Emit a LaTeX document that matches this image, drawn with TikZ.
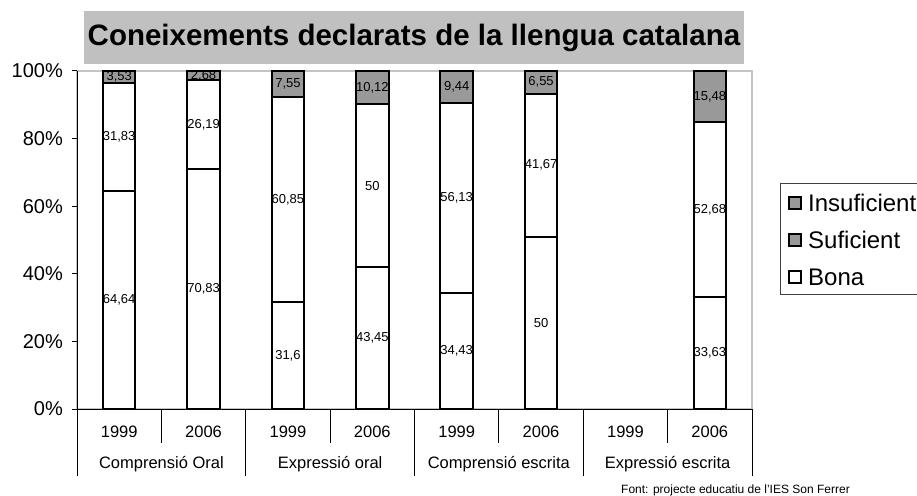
\documentclass[tikz,border=0pt]{standalone}
\usepackage{fontspec}
\setmainfont{Liberation Sans}
\definecolor{segGray}{HTML}{999999}
\definecolor{titleGray}{HTML}{C0C0C0}
\definecolor{frameGray}{HTML}{C4C4C4}
\definecolor{legGray}{HTML}{404040}
\newcommand\stackbar[7]{%
 \pgfmathsetmacro\sbTot{#2+#3+#4}%
 \pgfmathsetmacro\sbFa{#2/\sbTot}%
 \pgfmathsetmacro\sbFb{(#2+#3)/\sbTot}%
 \pgfmathsetmacro\sbYa{409-338*\sbFa}%
 \pgfmathsetmacro\sbYb{409-338*\sbFb}%
 \pgfmathsetmacro\sbX{77+84.375*(#1-0.5)}%
 \fill[segGray] ({\sbX-16.2},\sbYb) rectangle ({\sbX+16.2},71);
 \fill[white] ({\sbX-16.2},409) rectangle ({\sbX+16.2},\sbYb);
 \node[datalbl] (bona#1) at (\sbX,{(409+\sbYa)/2}) {#5};
 \node[datalbl] (suf#1) at (\sbX,{(\sbYa+\sbYb)/2}) {#6};
 \node[datalbl] (ins#1) at (\sbX,{(\sbYb+71)/2}) {#7};
 \draw[barline] ({\sbX-16.2},409) rectangle ({\sbX+16.2},71);
 \draw[barline] ({\sbX-16.2},\sbYa) -- ({\sbX+16.2},\sbYa);
 \draw[barline] ({\sbX-16.2},\sbYb) -- ({\sbX+16.2},\sbYb);
}
\tikzset{
 datalbl/.style={font=\fontsize{13}{15}\selectfont, inner sep=0pt},
 barline/.style={line width=2pt, black},
 axisline/.style={line width=1pt, black},
 ticklbl/.style={font=\fontsize{20}{23}\selectfont, inner sep=0pt, anchor=east},
 catlbl/.style={font=\fontsize{16.5}{19}\selectfont, inner sep=0pt},
 leglbl/.style={font=\fontsize{24}{28}\selectfont, inner sep=0pt, anchor=west},
 legbox/.style={draw=black, line width=2pt, minimum size=12pt, inner sep=0pt}
}
\begin{document}
\begin{tikzpicture}[x=1pt, y=-1pt]
\useasboundingbox (0,0) rectangle (917,495);
\clip (0,0) rectangle (917,495);
% title
\node[fill=titleGray, minimum width=660pt, minimum height=53pt, inner sep=0pt] (title) at (414,37.5)
 {\fontsize{29.5}{33}\selectfont\bfseries Coneixements declarats de la llengua catalana};
% plot frame
\draw[frameGray, line width=1.5pt] (77,71) rectangle (752,409);
% y ticks
\foreach \p in {0,20,40,60,80,100}{
 \draw[axisline] (72,{409-3.38*\p}) -- (77,{409-3.38*\p});
 \node[ticklbl] (ytick\p) at (63,{409-3.38*\p}) {\p\%};
}
% axes
\draw[axisline] (77,71) -- (77,476);
\draw[axisline] (72,409) -- (752,409);
% category separators
\foreach \k in {1,2,...,8}{
 \pgfmathsetmacro\sepX{77+84.375*\k}
 \pgfmathtruncatemacro\isodd{mod(\k,2)}
 \ifnum\isodd=1
  \draw[axisline] (\sepX,409) -- (\sepX,443);
 \else
  \draw[axisline] (\sepX,409) -- (\sepX,476);
 \fi
}
% year labels
\foreach \k/\yr in {1/1999,2/2006,3/1999,4/2006,5/1999,6/2006,7/1999,8/2006}{
 \node[catlbl] (yr\k) at ({77+84.375*(\k-0.5)},432) {\yr};
}
% group labels
\node[catlbl] (g1) at ({77+84.375*1},464) {Comprensió Oral};
\node[catlbl] (g2) at ({77+84.375*3},464) {Expressió oral};
\node[catlbl] (g3) at ({77+84.375*5},464) {Comprensió escrita};
\node[catlbl] (g4) at ({77+84.375*7},464) {Expressió escrita};
% bars
\stackbar{1}{64.64}{31.83}{3.53}{64,64}{31,83}{3,53}
\stackbar{2}{70.83}{26.19}{2.68}{70,83}{26,19}{2,68}
\stackbar{3}{31.6}{60.85}{7.55}{31,6}{60,85}{7,55}
\stackbar{4}{43.45}{50}{10.12}{43,45}{50}{10,12}
\stackbar{5}{34.43}{56.13}{9.44}{34,43}{56,13}{9,44}
\stackbar{6}{50}{41.67}{6.55}{50}{41,67}{6,55}
\stackbar{8}{33.63}{52.68}{15.48}{33,63}{52,68}{15,48}
% legend
\draw[legGray, line width=1pt] (780,183) rectangle (940,294);
\node[legbox, fill=segGray] (kins) at (794.7,203) {};
\node[leglbl] (tins) at (808,203) {Insuficient};
\node[legbox, fill=segGray] (ksuf) at (794.7,240) {};
\node[leglbl] (tsuf) at (808,240) {Suficient};
\node[legbox, fill=white] (kbona) at (794.7,277) {};
\node[leglbl] (tbona) at (808,277) {Bona};
% footnote
\node[font=\fontsize{12}{14}\selectfont, inner sep=0pt, anchor=base] (font) at (735.5,493)
 {Font: projecte educatiu de l'IES Son Ferrer};
\end{tikzpicture}
\end{document}
